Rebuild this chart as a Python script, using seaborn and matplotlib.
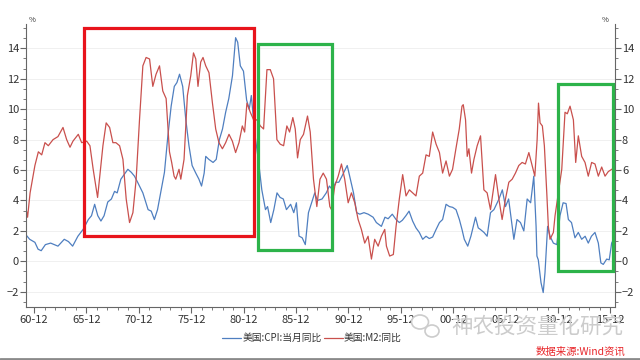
import matplotlib
matplotlib.use('Agg')
import matplotlib.pyplot as plt
from matplotlib import ticker
from matplotlib.patches import Rectangle, Ellipse
from matplotlib.lines import Line2D
import seaborn as sns
import pandas as pd

# US CPI yoy (%); time as decimal year
cpi_t = [1960.2, 1960.5, 1961.0, 1961.3, 1961.6, 1962.0, 1962.5, 1963.2, 1963.8, 1964.2,
         1964.6, 1965.1, 1965.6, 1966.1, 1966.4, 1966.7, 1967.0, 1967.3, 1967.6, 1967.95,
         1968.3, 1968.6, 1968.85, 1969.2, 1969.87, 1970.2, 1970.5, 1970.8, 1971.3, 1971.8,
         1972.1, 1972.4, 1972.7, 1973.36, 1973.68, 1974.0, 1974.3, 1974.55, 1974.8, 1975.1,
         1975.4, 1975.7, 1976.0, 1976.35, 1976.65, 1976.9, 1977.15, 1977.3, 1977.6, 1978.0,
         1978.3, 1978.6, 1978.9, 1979.2, 1979.5, 1979.85, 1980.15, 1980.35, 1980.6, 1980.9,
         1981.2, 1981.45, 1981.65, 1981.98, 1982.35, 1982.65, 1983.0, 1983.2, 1983.5, 1983.8,
         1984.1, 1984.4, 1984.7, 1985.0, 1985.4, 1985.7, 1985.95, 1986.2, 1986.5, 1986.8,
         1987.1, 1987.4, 1987.7, 1987.95, 1988.4, 1988.8, 1989.1, 1989.4, 1989.7, 1990.0,
         1990.3, 1990.8, 1991.1, 1991.4, 1991.7, 1992.0, 1992.4, 1992.8, 1993.27, 1993.58,
         1994.06, 1994.4, 1994.7, 1995.1, 1995.46, 1995.77, 1996.06, 1996.4, 1996.7, 1997.04,
         1997.36, 1997.68, 1998.0, 1998.32, 1998.63, 1998.95, 1999.28, 1999.6, 1999.9, 2000.23,
         2000.55, 2000.86, 2001.18, 2001.5, 2001.75, 2001.97, 2002.3, 2002.6, 2003.04, 2003.3,
         2003.5, 2003.85, 2004.15, 2004.47, 2004.8, 2005.28, 2005.6, 2005.76, 2005.9, 2006.2,
         2006.54, 2006.7, 2007.0, 2007.33, 2007.65, 2007.97, 2008.3, 2008.6, 2008.82, 2008.9,
         2009.03, 2009.29, 2009.5, 2009.67, 2009.92, 2010.15, 2010.47, 2010.8, 2011.1, 2011.4,
         2011.68, 2011.9, 2012.2, 2012.53, 2012.85, 2013.17, 2013.5, 2013.8, 2014.1, 2014.44,
         2014.76, 2015.0, 2015.23, 2015.56, 2015.8, 2016.03, 2016.25]
cpi_v = [1.7, 1.45, 1.25, 0.8, 0.7, 1.1, 1.2, 1.0, 1.45, 1.3,
         1.0, 1.65, 2.1, 2.75, 3.0, 3.75, 3.0, 2.65, 3.0, 3.9,
         4.1, 4.6, 4.5, 5.4, 6.05, 5.85, 5.6, 5.2, 4.5, 3.4,
         3.3, 2.75, 3.4, 5.85, 8.2, 10.2, 11.5, 11.75, 12.3, 11.5,
         9.3, 7.6, 6.3, 5.8, 5.4, 4.95, 5.8, 6.9, 6.7, 6.5,
         6.7, 8.0, 8.7, 9.8, 10.7, 12.2, 14.7, 14.4, 12.85, 12.5,
         10.6, 10.0, 10.9, 8.4, 6.5, 4.7, 3.4, 3.6, 2.55, 3.4,
         4.5, 4.2, 4.1, 3.4, 3.75, 3.2, 3.85, 1.66, 1.55, 1.1,
         3.2, 3.85, 4.5, 4.0, 4.1, 4.5, 4.95, 4.7, 5.2, 5.2,
         5.6, 6.3, 5.4, 4.5, 3.2, 3.1, 3.2, 3.1, 2.9, 2.55,
         2.3, 2.9, 2.8, 3.1, 2.75, 2.55, 2.7, 3.0, 3.3, 2.65,
         2.2, 1.9, 1.45, 1.65, 1.5, 1.6, 2.1, 2.55, 2.75, 3.75,
         3.6, 3.55, 3.4, 2.75, 2.1, 1.45, 1.0, 1.65, 2.9, 2.2,
         2.1, 1.9, 1.65, 3.2, 3.4, 4.1, 4.7, 4.1, 3.6, 4.1,
         2.3, 1.45, 2.75, 2.55, 2.0, 4.1, 3.85, 5.6, 2.3, 0.35,
         0.1, -1.4, -2.05, -0.75, 2.3, 1.65, 1.2, 1.1, 3.0, 3.85,
         3.8, 2.75, 2.55, 1.55, 1.9, 1.45, 1.65, 1.2, 1.65, 1.9,
         1.2, -0.1, -0.2, 0.15, 0.1, 1.2, 1.5]

# US M2 yoy (%)
m2_t = [1960.2, 1960.3, 1960.54, 1961.0, 1961.33, 1961.65, 1961.96, 1962.28, 1962.73, 1963.2,
        1963.68, 1964.03, 1964.35, 1964.63, 1965.14, 1965.46, 1965.94, 1966.25, 1966.56, 1966.98,
        1967.49, 1967.8, 1968.13, 1968.44, 1968.73, 1969.08, 1969.4, 1969.71, 1970.03, 1970.35,
        1970.66, 1970.98, 1971.3, 1971.61, 1971.94, 1972.25, 1972.56, 1972.89, 1973.2, 1973.52,
        1973.84, 1974.05, 1974.28, 1974.44, 1974.75, 1974.92, 1975.23, 1975.55, 1975.87, 1976.13,
        1976.35, 1976.56, 1976.82, 1977.04, 1977.3, 1977.61, 1977.94, 1978.25, 1978.56, 1978.89,
        1979.2, 1979.52, 1979.84, 1980.15, 1980.47, 1980.79, 1981.01, 1981.23, 1981.55, 1981.87,
        1982.18, 1982.51, 1982.82, 1983.14, 1983.46, 1983.77, 1984.09, 1984.41, 1984.73, 1985.04,
        1985.3, 1985.61, 1985.84, 1986.06, 1986.32, 1986.63, 1987.01, 1987.27, 1987.58, 1987.9,
        1988.2, 1988.51, 1988.82, 1989.14, 1989.3, 1989.61, 1989.94, 1990.25, 1990.56, 1990.89,
        1991.2, 1991.52, 1991.84, 1992.15, 1992.47, 1992.79, 1993.11, 1993.42, 1993.75, 1994.06,
        1994.38, 1994.54, 1994.85, 1995.2, 1995.46, 1995.77, 1996.09, 1996.41, 1996.73, 1997.04,
        1997.36, 1997.68, 1998.0, 1998.32, 1998.63, 1998.95, 1999.28, 1999.6, 1999.9, 2000.23,
        2000.55, 2000.85, 2001.17, 2001.49, 2001.75, 2001.87, 2002.09, 2002.25, 2002.41, 2002.66,
        2002.89, 2003.2, 2003.52, 2003.84, 2004.15, 2004.47, 2004.95, 2005.27, 2005.58, 2005.9,
        2006.22, 2006.54, 2006.85, 2007.17, 2007.49, 2007.8, 2008.13, 2008.44, 2008.7, 2008.92,
        2009.05, 2009.2, 2009.42, 2009.61, 2009.84, 2009.99, 2010.15, 2010.47, 2010.63, 2010.95,
        2011.27, 2011.58, 2011.8, 2012.06, 2012.38, 2012.6, 2012.85, 2013.17, 2013.49, 2013.8,
        2014.12, 2014.44, 2014.76, 2015.08, 2015.4, 2015.71, 2016.03, 2016.15]
m2_v = [3.3, 2.9, 4.5, 6.3, 7.2, 7.0, 7.8, 7.6, 8.0, 8.2,
        8.8, 8.0, 7.5, 7.9, 8.35, 7.8, 7.9, 7.6, 6.05, 4.2,
        7.6, 9.1, 8.8, 7.8, 7.8, 7.6, 6.7, 4.1, 2.55, 3.2,
        5.4, 9.3, 12.85, 13.4, 13.3, 11.5, 12.3, 12.85, 11.2, 10.7,
        7.2, 6.5, 5.6, 5.4, 6.05, 5.4, 6.7, 10.9, 12.2, 13.7,
        13.3, 11.5, 13.1, 13.4, 12.85, 12.4, 10.4, 8.7, 7.8, 7.4,
        7.8, 8.35, 7.9, 7.15, 7.8, 8.9, 8.5, 10.4, 9.8, 9.3,
        9.3, 8.9, 8.7, 12.6, 12.6, 12.0, 8.0, 7.7, 7.6, 8.9,
        8.5, 9.45, 8.7, 6.8, 8.0, 8.35, 9.55, 8.5, 5.4, 3.6,
        5.4, 5.8, 5.4, 3.6, 3.4, 4.95, 5.6, 6.4, 5.4, 3.85,
        4.5, 3.85, 2.75, 2.1, 1.2, 1.65, 0.15, 1.45, 1.0, 1.65,
        2.1, 1.0, 0.35, 0.45, 2.3, 4.1, 5.7, 4.3, 4.7, 4.5,
        4.3, 5.6, 5.8, 7.0, 6.9, 8.5, 7.7, 7.15, 5.8, 6.6,
        5.6, 6.05, 7.4, 8.7, 10.2, 10.3, 9.3, 6.9, 7.4, 5.8,
        6.7, 7.6, 8.25, 4.7, 4.5, 3.4, 5.7, 4.1, 2.75, 4.1,
        5.2, 5.4, 5.8, 6.3, 6.5, 6.4, 7.15, 6.3, 5.6, 8.0,
        10.4, 9.1, 8.9, 7.6, 4.5, 2.3, 1.45, 1.9, 3.0, 4.5,
        6.05, 9.8, 9.7, 10.2, 9.3, 6.5, 8.25, 6.9, 6.5, 5.6,
        6.5, 6.4, 5.6, 6.2, 5.6, 5.9, 6.05, 6.1]

x_tick_labels = ['60-12', '65-12', '70-12', '75-12', '80-12', '85-12',
                 '90-12', '95-12', '00-12', '05-12', '10-12', '15-12']
series_names = ['美国:CPI:当月同比', '美国:M2:同比']

# highlight boxes: (x0, x1, y0, y1, colour)
boxes = [(1965.68, 1981.87, 1.64, 15.33, '#e8141c'),
         (1982.25, 1989.39, 0.72, 14.28, '#2db34a'),
         (2010.92, 2016.16, -0.66, 11.64, '#2db34a')]

df_cpi = pd.DataFrame({'t': cpi_t, 'v': cpi_v})
df_m2 = pd.DataFrame({'t': m2_t, 'v': m2_v})

sns.set_style('white')
plt.rcParams['font.family'] = ['Noto Sans CJK SC', 'DejaVu Sans']

fig = plt.figure(figsize=(6.4, 3.6), dpi=100)
ax = fig.add_axes([26/640, 1-307/360, (615-26)/640, (307-24)/360])

sns.lineplot(data=df_cpi, x='t', y='v', color='#4f7fc0', lw=0.9, estimator=None,
             label=series_names[0], ax=ax)
sns.lineplot(data=df_m2, x='t', y='v', color='#c9504d', lw=0.9, estimator=None,
             label=series_names[1], ax=ax)

ax.set_xlim(1960.15, 2016.35)
ax.set_ylim(-3, 15.6)
ax.set_xlabel('')
ax.set_ylabel('')

x_major = [1960 + 11/12 + 5*i for i in range(len(x_tick_labels))]
ax.xaxis.set_major_locator(ticker.FixedLocator(x_major))
ax.xaxis.set_minor_locator(ticker.FixedLocator([1960 + 11/12 + i for i in range(56)]))
ax.set_xticklabels(x_tick_labels)
ax.yaxis.set_major_locator(ticker.MultipleLocator(2))
ax.yaxis.set_minor_locator(ticker.AutoMinorLocator(3))

ax.yaxis.grid(True, which='major', color='#eeeeee', lw=0.6)
ax.set_axisbelow(True)
for side in ['left', 'bottom', 'right']:
    ax.spines[side].set_color('#666666')
    ax.spines[side].set_linewidth(0.8)
ax.spines['top'].set_visible(False)

ax.tick_params(axis='y', which='both', left=True, right=True, labelright=True,
               direction='out', colors='#666666', labelcolor='#333333', labelsize=8, pad=1)
ax.tick_params(axis='y', which='major', length=4)
ax.tick_params(axis='y', which='minor', length=2.5)
ax.tick_params(axis='x', which='both', bottom=True, direction='out', colors='#666666',
               labelcolor='#333333', labelsize=8, pad=2)
ax.tick_params(axis='x', which='major', length=4)
ax.tick_params(axis='x', which='minor', length=2.5)

ax.text(0.005, 1.0, '%', transform=ax.transAxes, fontsize=5.5, color='#333333',
        ha='left', va='bottom')
ax.text(0.99, 1.0, '%', transform=ax.transAxes, fontsize=5.5, color='#333333',
        ha='right', va='bottom')

for x0, x1, y0, y1, col in boxes:
    ax.add_patch(Rectangle((x0, y0), x1 - x0, y1 - y0, fill=False, edgecolor=col,
                           lw=2.3, clip_on=False, zorder=5))

ax.get_legend().remove()
handles, labels = ax.get_legend_handles_labels()
fig.legend(handles, labels, loc='center', bbox_to_anchor=(312/640, 1-338/360), ncol=2,
           frameon=False, fontsize=7, handlelength=2.0, columnspacing=0.2,
           handletextpad=0.1, labelcolor='#333333')

# watermark (sits over the tick labels, as in the source image)
fig.add_artist(Ellipse((420/640, 1-322/360), 17/640, 14/360, transform=fig.transFigure,
                       facecolor='white', edgecolor='#cccccc', lw=1.2))
fig.add_artist(Ellipse((432/640, 1-331/360), 14/640, 12/360, transform=fig.transFigure,
                       facecolor='white', edgecolor='#cccccc', lw=1.2))
fig.text(451/640, 1-327/360, '神农投资量化研究', fontsize=15.5, color='#cccccc',
         ha='left', va='center')
fig.text(625/640, 1-352/360, '数据来源:Wind资讯', fontsize=7.5, color='#e8262a',
         ha='right', va='center', style='italic')
fig.add_artist(Line2D([0, 1], [0.003, 0.003], transform=fig.transFigure,
                      color='#8a8a8a', lw=2))

fig.savefig('out.png', dpi=100)
